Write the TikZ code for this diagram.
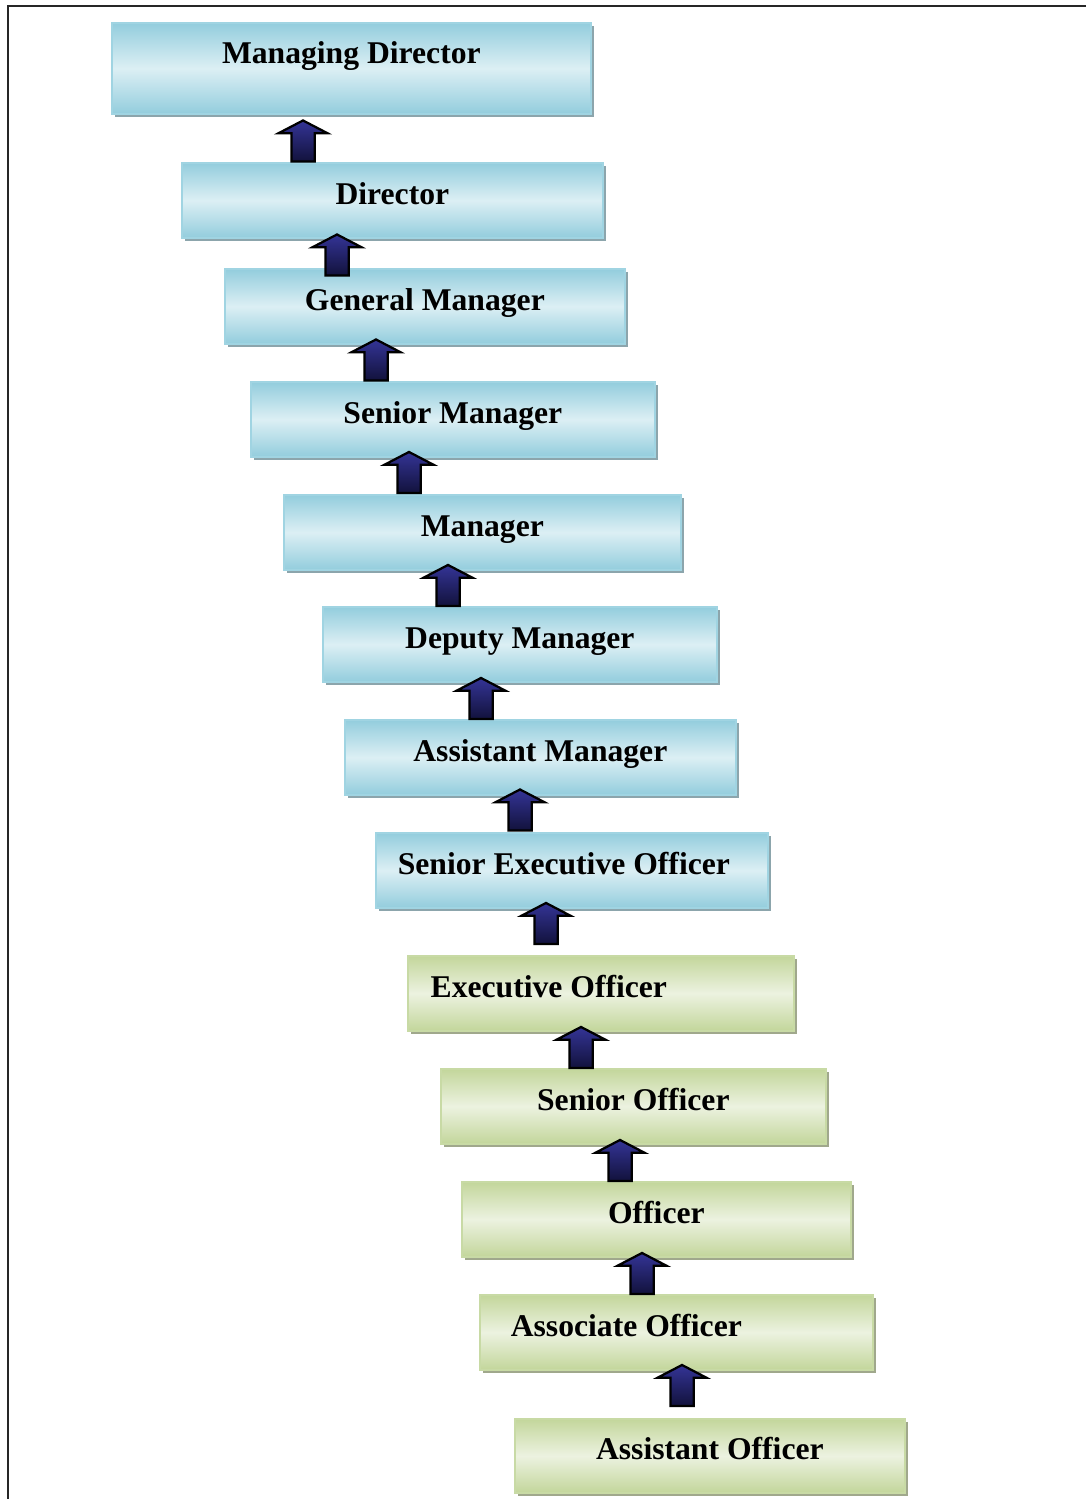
\documentclass[tikz,border=0pt]{standalone}
\usepackage{fontspec}
\setmainfont{Liberation Serif}
\usepackage{xcolor}
\usepackage{tikz}
\usetikzlibrary{shapes.arrows,shadows,positioning}

\definecolor{blueL}{RGB}{220,239,244}
\definecolor{blueD}{RGB}{147,205,221}
\definecolor{blueB}{RGB}{160,212,226}
\definecolor{blueS}{RGB}{140,165,172}
\definecolor{greenL}{RGB}{236,242,224}
\definecolor{greenD}{RGB}{195,214,155}
\definecolor{greenB}{RGB}{200,218,165}
\definecolor{greenS}{RGB}{160,168,140}
\definecolor{arrTop}{RGB}{52,52,150}
\definecolor{arrBot}{RGB}{18,18,60}

\newcommand{\pxu}{0.025cm}

\tikzset{
  rank/.style={anchor=north west, inner sep=0pt, line width=1.2pt,
    font=\fontsize{22.5}{27}\selectfont\bfseries,
    text height=15.5pt, text depth=10pt, shading angle=-45},
  bluebox/.style={rank, draw=blueB, top color=blueD, bottom color=blueD, middle color=blueL,
    drop shadow={shadow xshift=2.2pt, shadow yshift=-2.2pt, fill=blueS, opacity=1}},
  greenbox/.style={rank, draw=greenB, top color=greenD, bottom color=greenD, middle color=greenL,
    drop shadow={shadow xshift=2.2pt, shadow yshift=-2.2pt, fill=greenS, opacity=1}},
  uparr/.style={single arrow, shape border rotate=90, draw=black, line width=1.6pt,
    inner sep=10.5*\pxu, minimum height=41*\pxu, single arrow tip angle=125,
    single arrow head extend=13*\pxu, top color=arrTop, bottom color=arrBot}
}

\begin{document}
\begin{tikzpicture}[x=\pxu, y=-\pxu]
\useasboundingbox (0,0) rectangle (1086,1499);

% Frame
\draw[line width=1.5pt, black!85] (1086,6) -- (8,6) -- (8,1499);

% Blue ranks
\node[bluebox, minimum width=479*\pxu, minimum height=91*\pxu, text depth=22.7pt] (md) at (111,22) {Managing Director};
\node[bluebox, minimum width=421*\pxu, minimum height=75*\pxu] (dir) at (181,162) {Director};
\node[bluebox, minimum width=400*\pxu, minimum height=75*\pxu] (gm) at (224,268) {General Manager};
\node[bluebox, minimum width=404*\pxu, minimum height=75*\pxu] (sm) at (250,381) {Senior Manager};
\node[bluebox, minimum width=397*\pxu, minimum height=75*\pxu] (mgr) at (283,494) {Manager};
\node[bluebox, minimum width=394*\pxu, minimum height=75*\pxu] (dm) at (322,606) {Deputy Manager};
\node[bluebox, minimum width=391*\pxu, minimum height=75*\pxu] (am) at (344,719) {Assistant Manager};
\node[bluebox, minimum width=392*\pxu, minimum height=75*\pxu] (seo) at (375,832) {Senior Executive Officer\hspace*{0.4cm}};

% Green ranks
\node[greenbox, minimum width=386*\pxu, minimum height=75*\pxu] (eo) at (407,955) {Executive Officer\hspace*{2.6cm}};
\node[greenbox, minimum width=385*\pxu, minimum height=75*\pxu] (so) at (440,1068) {Senior Officer};
\node[greenbox, minimum width=389*\pxu, minimum height=75*\pxu] (off) at (461,1181) {Officer};
\node[greenbox, minimum width=393*\pxu, minimum height=75*\pxu] (ao) at (479,1294) {Associate Officer\hspace*{2.5cm}};
\node[greenbox, minimum width=390*\pxu, minimum height=74*\pxu] (asto) at (514,1418) {Assistant Officer};

% Arrows
\node[uparr] (a1) at (303,144) {};
\node[uparr] (a2) at (337,258) {};
\node[uparr] (a3) at (376,363) {};
\node[uparr] (a4) at (409,475.5) {};
\node[uparr] (a5) at (448,588.5) {};
\node[uparr] (a6) at (481,701.5) {};
\node[uparr] (a7) at (520,813) {};
\node[uparr] (a8) at (546,926.5) {};
\node[uparr] (a9) at (581,1050.5) {};
\node[uparr] (a10) at (620,1163.5) {};
\node[uparr] (a11) at (642,1276.5) {};
\node[uparr] (a12) at (682,1388.5) {};
\end{tikzpicture}
\end{document}
